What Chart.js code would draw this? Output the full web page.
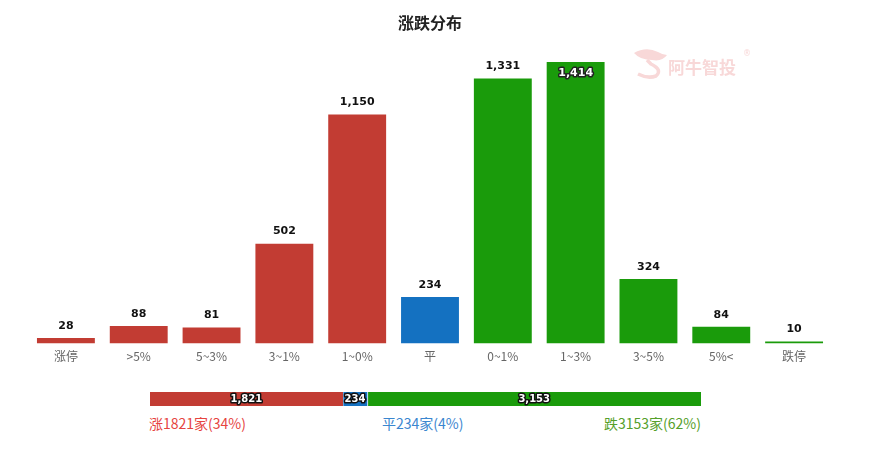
<!DOCTYPE html>
<html>
<head>
<meta charset="utf-8">
<script src="https://cdn.jsdelivr.net/npm/chart.js@4.4.0/dist/chart.umd.min.js"></script>
<style>
  body { margin: 0; background: #fff; width: 872px; height: 453px; overflow: hidden; position: relative; font-family: "Noto Sans CJK SC", sans-serif; }
  #title { position: absolute; left: 0; width: 860px; top: 10px; text-align: center; font-weight: bold; font-size: 16px; color: #222; }
  #main { position: absolute; left: 0; top: 0; }
  #sum { position: absolute; left: 150px; top: 392px; }
  .lg { position: absolute; top: 413px; font-size: 14px; }
</style>
</head>
<body>
<canvas id="main" width="872" height="370"></canvas>
<div id="title">涨跌分布</div>
<canvas id="sum" width="551" height="14"></canvas>
<div class="lg" id="lgUp" style="left:149px;color:#e6443f"></div>
<div class="lg" id="lgFlat" style="left:382px;color:#3a86cf"></div>
<div class="lg" id="lgDown" style="left:500px;width:201px;text-align:right;color:#55a02a"></div>
<script>
const categories = ["涨停", ">5%", "5~3%", "3~1%", "1~0%", "平", "0~1%", "1~3%", "3~5%", "5%<", "跌停"];
const counts = [28, 88, 81, 502, 1150, 234, 1331, 1414, 324, 84, 10];
const barColors = ["#c23c33", "#c23c33", "#c23c33", "#c23c33", "#c23c33", "#1471c1",
                   "#1a9b0b", "#1a9b0b", "#1a9b0b", "#1a9b0b", "#1a9b0b"];
const summaryTotals = [1821, 234, 3153];
const summaryPct = [34, 4, 62];
const summaryNames = ["涨", "平", "跌"];

const RED = "#c23c33", BLUE = "#1471c1", GREEN = "#1a9b0b";

function fmt(n) { return n.toLocaleString("en-US"); }

function outlined(ctx, text, x, y, fill, stroke) {
  ctx.lineWidth = 3;
  ctx.strokeStyle = stroke;
  ctx.lineJoin = "round";
  ctx.strokeText(text, x, y);
  ctx.fillStyle = fill;
  ctx.fillText(text, x, y);
}

// value labels above the bars
const barLabels = {
  id: "barLabels",
  afterDatasetsDraw(chart) {
    const ctx = chart.ctx;
    const meta = chart.getDatasetMeta(0);
    ctx.save();
    ctx.font = "bold 11px 'DejaVu Sans'";
    ctx.textAlign = "center";
    ctx.textBaseline = "middle";
    meta.data.forEach((bar, i) => {
      const t = fmt(counts[i]);
      if (bar.y - 12 < chart.chartArea.top) {
        outlined(ctx, t, bar.x, bar.y + 11, "#fff", "#222");
      } else {
        outlined(ctx, t, bar.x, bar.y - 12, "#111", "#fff");
      }
    });
    ctx.restore();
  }
};

// faint logo in the top right corner
const watermark = {
  id: "watermark",
  beforeDatasetsDraw(chart) {
    const ctx = chart.ctx;
    ctx.save();
    ctx.fillStyle = "#f8d8d8";
    ctx.strokeStyle = "#f8d8d8";
    // head
    ctx.beginPath();
    ctx.moveTo(634, 53);
    ctx.quadraticCurveTo(646, 46, 658, 52);
    ctx.quadraticCurveTo(663, 55, 667, 55);
    ctx.quadraticCurveTo(662, 62, 652, 60);
    ctx.quadraticCurveTo(640, 60, 634, 53);
    ctx.fill();
    // neck curl
    ctx.lineWidth = 3.5;
    ctx.beginPath();
    ctx.moveTo(647, 60);
    ctx.lineTo(651, 64);
    ctx.quadraticCurveTo(663, 70, 656, 76);
    ctx.quadraticCurveTo(648, 79, 638, 74);
    ctx.stroke();
    ctx.font = "bold 17px 'Noto Sans CJK SC'";
    ctx.textBaseline = "middle";
    ctx.fillText("阿牛智投", 668, 68);
    ctx.font = "8px 'DejaVu Sans'";
    ctx.fillText("®", 743, 54);
    ctx.restore();
  }
};

new Chart(document.getElementById("main"), {
  type: "bar",
  data: {
    labels: categories,
    datasets: [{ data: counts, backgroundColor: barColors, barPercentage: 0.795, categoryPercentage: 1 }]
  },
  options: {
    responsive: false,
    animation: false,
    layout: { padding: { left: 29.5, right: 41.5, top: 62, bottom: 0 } },
    plugins: { legend: { display: false }, tooltip: { enabled: false } },
    scales: {
      x: {
        grid: { display: false, drawTicks: false },
        border: { display: false },
        ticks: { color: "#666", font: { family: "Noto Sans CJK SC", size: 12 }, padding: 6 }
      },
      y: { display: false, min: 0, max: 1414 }
    }
  },
  plugins: [barLabels, watermark]
});

// summary strip
const sumLabels = {
  id: "sumLabels",
  afterDatasetsDraw(chart) {
    const ctx = chart.ctx;
    ctx.save();
    ctx.font = "bold 10px 'DejaVu Sans'";
    ctx.textAlign = "center";
    ctx.textBaseline = "middle";
    chart.data.datasets.forEach((ds, i) => {
      const bar = chart.getDatasetMeta(i).data[0];
      const cx = (bar.x + bar.base) / 2;
      outlined(ctx, fmt(ds.data[0]), cx, bar.y + 0.5, "#fff", "#111");
    });
    ctx.restore();
  }
};

const sepBorder = { left: 1, right: 0, top: 0, bottom: 0 };
new Chart(document.getElementById("sum"), {
  type: "bar",
  data: {
    labels: [""],
    datasets: [
      { data: [summaryTotals[0]], backgroundColor: RED, borderWidth: 0 },
      { data: [summaryTotals[1]], backgroundColor: BLUE, borderColor: "#fff", borderWidth: sepBorder, borderSkipped: false },
      { data: [summaryTotals[2]], backgroundColor: GREEN, borderColor: "#fff", borderWidth: sepBorder, borderSkipped: false }
    ]
  },
  options: {
    indexAxis: "y",
    responsive: false,
    animation: false,
    layout: { padding: 0 },
    datasets: { bar: { barPercentage: 1, categoryPercentage: 1 } },
    plugins: { legend: { display: false }, tooltip: { enabled: false } },
    scales: {
      x: { display: false, stacked: true, min: 0, max: summaryTotals[0] + summaryTotals[1] + summaryTotals[2] },
      y: { display: false, stacked: true }
    }
  },
  plugins: [sumLabels]
});

["lgUp", "lgFlat", "lgDown"].forEach((id, i) => {
  document.getElementById(id).textContent =
    summaryNames[i] + summaryTotals[i] + "家(" + summaryPct[i] + "%)";
});
</script>
</body>
</html>
